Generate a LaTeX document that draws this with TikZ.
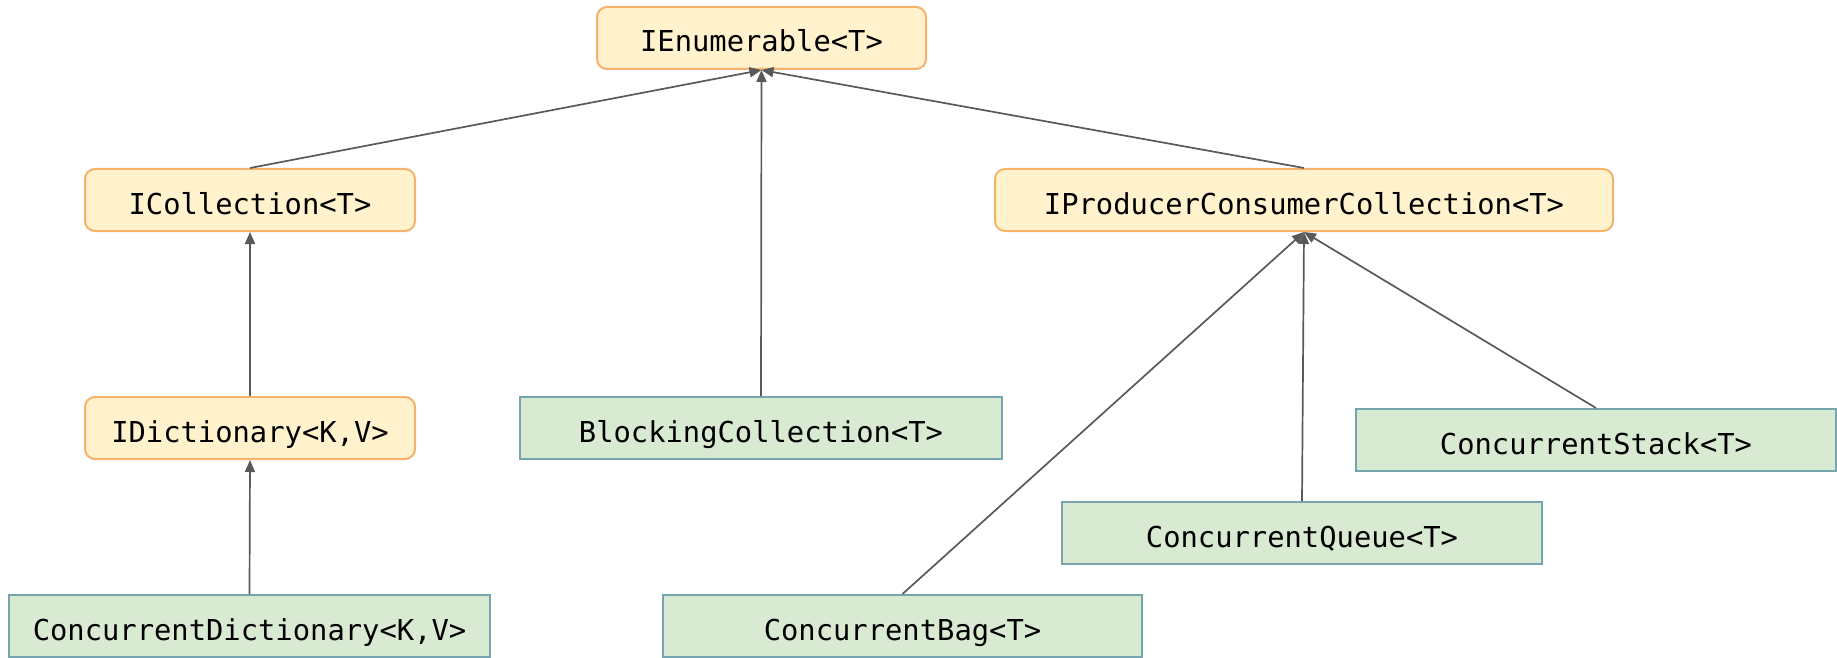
\documentclass[tikz,border=0pt]{standalone}
\usepackage{fontspec}
\newfontfamily\codefont{DejaVu Sans Mono}
\usetikzlibrary{arrows.meta}
\definecolor{ofill}{HTML}{FFF2CC}
\definecolor{oline}{HTML}{F6B26B}
\definecolor{gfill}{HTML}{D9EAD3}
\definecolor{gline}{HTML}{76A5AF}
\definecolor{conncol}{HTML}{595959}
\tikzset{
  base/.style={inner sep=0pt, line width=1pt, minimum height=31pt,
    text height=14.5pt, text depth=0.5pt,
    font=\codefont\fontsize{14.4}{16}\selectfont, text=black},
  obox/.style={base, draw=oline, fill=ofill, rounded corners=5pt},
  gbox/.style={base, draw=gline, fill=gfill},
  conn/.style={draw=conncol, line width=0.85pt, -{Triangle[length=6pt,width=5pt]}}
}
\begin{document}
\begin{tikzpicture}[x=0.5pt,y=-0.5pt]
\useasboundingbox (0,0) rectangle (1837,658);
\node[obox, minimum width=164.5pt] (ienum) at (761.5,38) {IEnumerable<T>};
\node[obox, minimum width=165pt] (icoll) at (250,200) {ICollection<T>};
\node[obox, minimum width=309pt] (ipcc) at (1304,200) {IProducerConsumerCollection<T>};
\node[obox, minimum width=165pt] (idict) at (250,428) {IDictionary<K,V>};
\node[gbox, minimum width=241pt] (block) at (761,428) {BlockingCollection<T>};
\node[gbox, minimum width=240.5pt] (cdict) at (249.5,626) {ConcurrentDictionary<K,V>};
\node[gbox, minimum width=239.5pt] (cbag) at (902.5,626) {ConcurrentBag<T>};
\node[gbox, minimum width=240pt] (cqueue) at (1302,533) {ConcurrentQueue<T>};
\node[gbox, minimum width=240pt] (cstack) at (1596,440) {ConcurrentStack<T>};
\draw[conn] (icoll.north) -- (ienum.south);
\draw[conn] (block.north) -- (ienum.south);
\draw[conn] (ipcc.north) -- (ienum.south);
\draw[conn] (idict.north) -- (icoll.south);
\draw[conn] (cdict.north) -- (idict.south);
\draw[conn] (cbag.north) -- (ipcc.south);
\draw[conn] (cqueue.north) -- (ipcc.south);
\draw[conn] (cstack.north) -- (ipcc.south);
\end{tikzpicture}
\end{document}
